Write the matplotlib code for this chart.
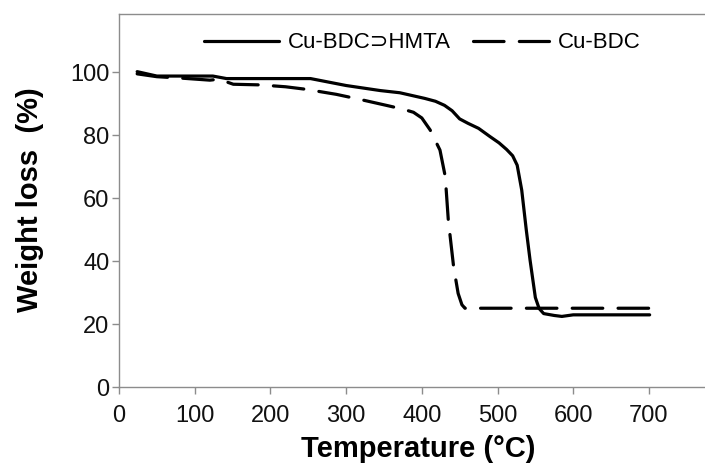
import matplotlib
matplotlib.use("Agg")
import matplotlib.pyplot as plt

plt.rcParams['lines.scale_dashes'] = False

# Data
temp_hmta = [24, 50, 124, 142, 175, 253, 300, 345, 371, 404, 418, 430, 440, 450, 461, 475,
             490, 502, 512, 520, 526, 532, 538, 543, 550, 555, 561, 575, 585, 600, 650, 701]
wt_hmta = [100.2, 98.8, 98.8, 98.0, 98.0, 98.0, 95.8, 94.2, 93.5, 91.7, 90.8, 89.5, 87.8, 85.2, 83.8, 82.2,
           79.6, 77.6, 75.5, 73.5, 70.5, 62.6, 50.0, 40.4, 28.5, 25.0, 23.4, 22.8, 22.5, 23.0, 23.0, 23.0]

temp_bdc = [24, 50, 85, 120, 132, 151, 186, 220, 247, 287, 320, 355, 375, 389, 400, 411,
            424, 431, 435, 442, 448, 453, 457, 470, 550, 701]
wt_bdc = [99.5, 98.6, 98.1, 97.5, 97.8, 96.2, 96.0, 95.4, 94.6, 93.0, 91.3, 89.4, 88.3, 87.3, 85.5, 81.7,
          75.3, 66.9, 53.1, 38.3, 29.8, 26.2, 25.1, 25.1, 25.1, 25.1]

series_labels = ["Cu-BDC\u2283HMTA", "Cu-BDC"]
xticks = [0, 100, 200, 300, 400, 500, 600, 700]
yticks = [0, 20, 40, 60, 80, 100]

W, H = 705, 463
AX_L, AX_B, AX_T = 119, 387.3, 14
AX_W = 800 * 0.757
fig = plt.figure(figsize=(W / 100, H / 100), dpi=100)
ax = fig.add_axes([AX_L / W, 1 - AX_B / H, AX_W / W, (AX_B - AX_T) / H])

l1, = ax.plot(temp_hmta, wt_hmta, color='black', lw=2.3, solid_joinstyle='round',
              solid_capstyle='round', label=series_labels[0])
l2, = ax.plot(temp_bdc, wt_bdc, color='black', lw=2.3, dashes=(22, 11),
              dash_capstyle='round', label=series_labels[1])

ax.set_xlim(0, 800)
ax.set_ylim(0, 118.5)
ax.set_xticks(xticks)
ax.set_yticks(yticks)

spine_col = '#8c8c8c'
for s in ['left', 'bottom', 'top']:
    ax.spines[s].set_color(spine_col)
    ax.spines[s].set_linewidth(1.0)
ax.spines['right'].set_visible(False)

fam = ['Liberation Sans', 'DejaVu Sans']
ax.tick_params(axis='both', direction='out', length=5, width=1.0, color=spine_col,
               labelsize=17, labelcolor='#111111')
ax.tick_params(axis='x', pad=8)
ax.tick_params(axis='y', pad=2)
for lab in ax.get_xticklabels() + ax.get_yticklabels():
    lab.set_family(fam)

ax.set_xlabel("Temperature (\u00b0C)", fontsize=21, fontweight='bold', family=fam)
ax.set_ylabel("Weight loss  (%)", fontsize=21, fontweight='bold', family=fam)
ax.xaxis.set_label_coords((418 - AX_L) / AX_W, (AX_B - 435) / (AX_B - AX_T))
ax.yaxis.set_label_coords((44 - AX_L) / AX_W, (AX_B - 200) / (AX_B - AX_T))

leg = fig.legend(handles=[l1, l2], loc='center', bbox_to_anchor=(422 / W, 1 - 43 / H),
                 ncol=2, frameon=False, handlelength=3.4, handletextpad=0.4,
                 columnspacing=1.0, prop={'family': fam, 'size': 16})

fig.savefig("out.png", dpi=100)
